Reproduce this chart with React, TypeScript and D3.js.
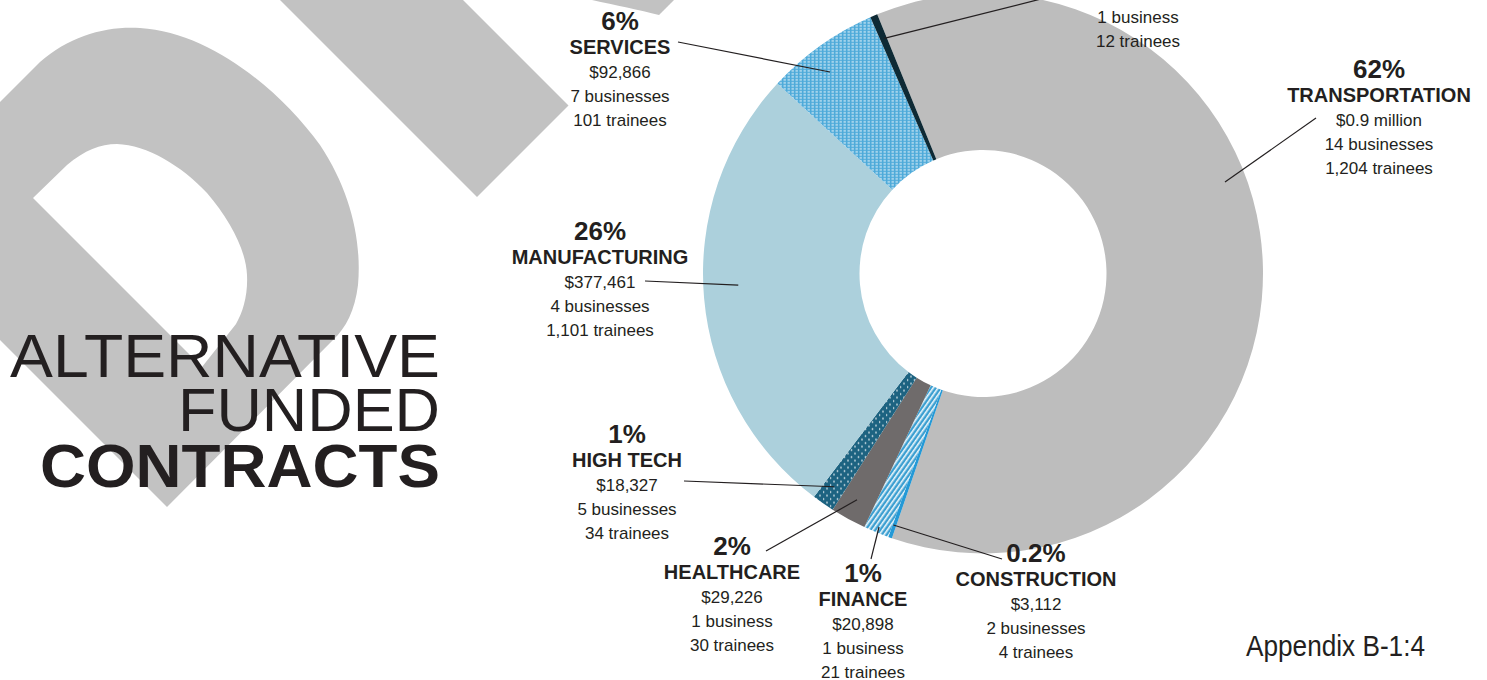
import React from 'react';
import * as d3 from 'd3';

// ---- data ----
const categories = ['TRANSPORTATION', 'CONSTRUCTION', 'FINANCE', 'HEALTHCARE', 'HIGH TECH', 'MANUFACTURING', 'SERVICES', ''];
const amounts = [873000, 3112, 20898, 29226, 18327, 377461, 92866, 6000];
const percentLabels = ['62%', '0.2%', '1%', '2%', '1%', '26%', '6%', ''];
const amountLabels = ['$0.9 million', '$3,112', '$20,898', '$29,226', '$18,327', '$377,461', '$92,866', ''];
const businesses = [14, 2, 1, 1, 5, 4, 7, 1];
const trainees = [1204, 4, 21, 30, 34, 1101, 101, 12];

// ---- layout (positions only) ----
const labelX = [1379, 1036, 863, 732, 627, 600, 620, 1138];
const labelTop = [78, 562, 582, 555, 443, 240, 30, -49];
const leaderAngle = [69.3, 199.6, 202.3, 209.1, 214.9, 267.3, 322.8, 337.2];
const leaderRadius = [258.7, 267, 274, 259, 260, 245, 253, 255];
const leaderEnd: [number, number][] = [
  [1316, 118], [1002, 559], [871, 559], [766, 551], [684, 481], [645, 281], [678, 42], [1045, -2],
];
const fills = ['#bdbdbd', '#2499d6', 'url(#pFinance)', '#6f6b6b', 'url(#pHighTech)', '#acd0dc', 'url(#pServices)', '#0e2a35'];

const INK = '#231f20';
const FONT = '"Liberation Sans", Arial, Helvetica, sans-serif';

export default function App() {
  const W = 1487, H = 680;
  const cx = 983, cy = 273.5, rIn = 123.5, rOut = 280;
  const start = (-22.2 * Math.PI) / 180;
  const pie = d3.pie<number>().sort(null).value((d) => d).startAngle(start).endAngle(start + 2 * Math.PI);
  const arcs = pie(amounts);
  const arc = d3.arc<d3.PieArcDatum<number>>().innerRadius(rIn).outerRadius(rOut);
  const fmt = d3.format(',');

  const polar = (deg: number, r: number): [number, number] => {
    const t = (deg * Math.PI) / 180;
    return [cx + r * Math.sin(t), cy - r * Math.cos(t)];
  };

  return (
    <svg width={W} height={H} style={{ position: 'absolute', left: 0, top: 0, background: '#fff' }} fontFamily={FONT}>
      <defs>
        <pattern id="pServices" patternUnits="userSpaceOnUse" width="4" height="3">
          <rect width="4" height="3" fill="#4eaad9" />
          <rect x="0.5" y="0.8" width="2.4" height="1.1" fill="#ffffff" opacity="0.85" />
        </pattern>
        <pattern id="pHighTech" patternUnits="userSpaceOnUse" width="7" height="7">
          <rect width="7" height="7" fill="#1d6381" />
          <circle cx="1.5" cy="1.5" r="0.85" fill="#ffffff" />
          <circle cx="5" cy="5" r="0.85" fill="#ffffff" />
        </pattern>
        <pattern id="pFinance" patternUnits="userSpaceOnUse" width="4" height="4" patternTransform="rotate(35)">
          <rect width="4" height="4" fill="#3c9fd1" />
          <rect x="0" y="0" width="1.6" height="4" fill="#ffffff" opacity="0.9" />
        </pattern>
      </defs>

      {/* decorative background shapes */}
      <g fill="#c2c2c2">
        <path
          fillRule="evenodd"
          d="M0,102 L40,62 C70,36 105,26 140,28 C210,32 280,90 320,145 C350,190 362,240 358,285 C355,310 346,328 333,340 L167,507 L0,340 Z
             M33,198 L67,165 C85,150 100,144 117,144 C147,145 182,166 207,193 C230,220 246,250 247,275 C248,295 243,312 236,324 L202,367 Z"
        />
        <path d="M280,0 L463,0 L568.5,105.5 L477,197 Z" />
        <path d="M592,0 L674,0 L659,15 C640,10 615,5 592,0 Z" />
      </g>

      {/* title */}
      <g fill={INK}>
        <text x={440} y={377} fontSize={62} textAnchor="end" textLength={430} lengthAdjust="spacingAndGlyphs" fontWeight={300}>
          ALTERNATIVE
        </text>
        <text x={440} y={431} fontSize={62} textAnchor="end" textLength={262} lengthAdjust="spacingAndGlyphs" fontWeight={300}>
          FUNDED
        </text>
        <text x={440} y={487} fontSize={62} textAnchor="end" textLength={400} lengthAdjust="spacingAndGlyphs" fontWeight={700}>
          CONTRACTS
        </text>
      </g>

      {/* donut */}
      <g transform={`translate(${cx},${cy})`}>
        {arcs.map((a, i) => (
          <path key={categories[i] + i} d={arc(a) || ''} fill={fills[i]} />
        ))}
      </g>

      {/* leaders */}
      <g stroke={INK} strokeWidth={1.2} fill="none">
        {amounts.map((_, i) => {
          const [x1, y1] = polar(leaderAngle[i], leaderRadius[i]);
          const [x2, y2] = leaderEnd[i];
          return <line key={i} x1={x1} y1={y1} x2={x2} y2={y2} />;
        })}
      </g>

      {/* labels */}
      <g fill={INK} textAnchor="middle">
        {amounts.map((_, i) => {
          const x = labelX[i];
          const p = labelTop[i];
          return (
            <g key={i}>
              {percentLabels[i] && (
                <text x={x} y={p} fontSize={26} fontWeight={700}>
                  {percentLabels[i]}
                </text>
              )}
              {categories[i] && (
                <text x={x} y={p + 24} fontSize={20} fontWeight={700}>
                  {categories[i]}
                </text>
              )}
              {amountLabels[i] && (
                <text x={x} y={p + 48} fontSize={17}>
                  {amountLabels[i]}
                </text>
              )}
              <text x={x} y={p + 72} fontSize={17}>
                {businesses[i] === 1 ? '1 business' : `${businesses[i]} businesses`}
              </text>
              <text x={x} y={p + 96} fontSize={17}>
                {`${fmt(trainees[i])} trainees`}
              </text>
            </g>
          );
        })}
      </g>

      <text x={1246} y={656} fontSize={30} fill={INK} textLength={179} lengthAdjust="spacingAndGlyphs">
        Appendix B-1:4
      </text>
    </svg>
  );
}
